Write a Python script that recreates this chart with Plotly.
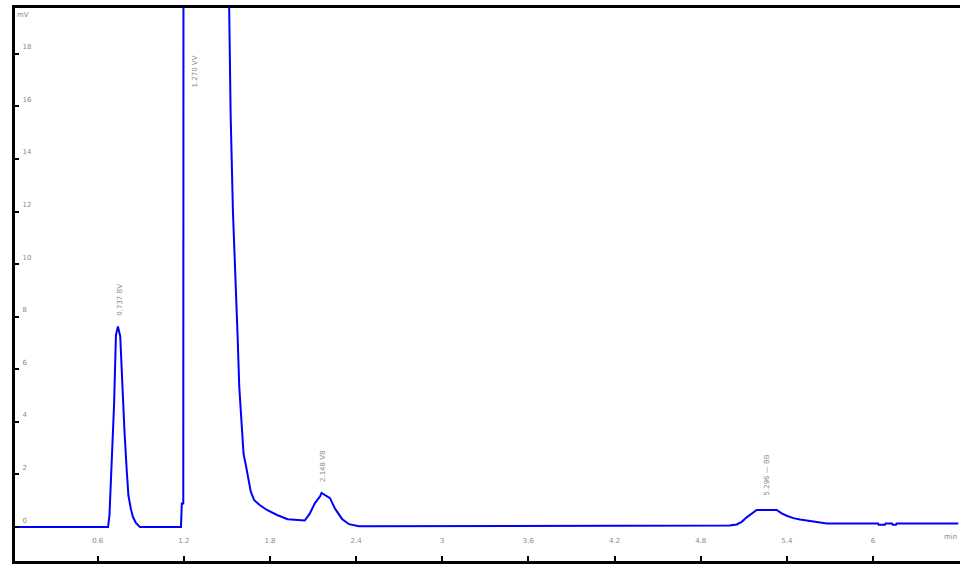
import plotly.graph_objects as go

# Chromatogram trace (time in min, signal in mV)
time_min = [0.00, 0.672, 0.682, 0.698, 0.714, 0.727, 0.741, 0.757, 0.772, 0.786,
            0.802, 0.814, 0.830, 0.845, 0.866, 0.895, 1.180, 1.186, 1.196, 1.198,
            1.505, 1.526, 1.542, 1.559, 1.574, 1.586, 1.600, 1.616, 1.633, 1.650,
            1.666, 1.689, 1.728, 1.779, 1.849, 1.923, 2.042, 2.077, 2.113, 2.148,
            2.159, 2.218, 2.253, 2.302, 2.350, 2.420, 5.000, 5.051, 5.086, 5.120,
            5.155, 5.190, 5.329, 5.364, 5.399, 5.445, 5.492, 5.596, 5.678, 6.035,
            6.040, 6.083, 6.088, 6.132, 6.137, 6.160, 6.165, 6.594]
signal_mv = [0.00, 0.00, 0.45, 2.30, 4.65, 7.30, 7.63, 7.25, 5.20, 3.70,
             2.17, 1.20, 0.72, 0.39, 0.16, 0.00, 0.00, 0.90, 0.90, 30.0,
             24.0, 15.66, 12.0, 9.03, 7.33, 5.33, 3.89, 2.78, 2.32, 1.75,
             1.35, 1.03, 0.84, 0.65, 0.46, 0.30, 0.25, 0.51, 0.91, 1.16,
             1.30, 1.10, 0.70, 0.31, 0.11, 0.03, 0.06, 0.10, 0.20, 0.37,
             0.52, 0.65, 0.65, 0.52, 0.43, 0.34, 0.29, 0.20, 0.14, 0.14,
             0.09, 0.09, 0.14, 0.14, 0.09, 0.09, 0.14, 0.14]

x_tick_vals = [0.6, 1.2, 1.8, 2.4, 3.0, 3.6, 4.2, 4.8, 5.4, 6.0]
x_tick_text = ["0.6", "1.2", "1.8", "2.4", "3", "3.6", "4.2", "4.8", "5.4", "6"]
y_tick_vals = [0, 2, 4, 6, 8, 10, 12, 14, 16, 18]
y_tick_text = ["0", "2", "4", "6", "8", "10", "12", "14", "16", "18"]

peak_labels = ["0.737 BV", "1.270 VV", "2.148 VB", "5.296 — BB"]
peak_label_x = [0.756, 1.278, 2.169, 5.265]
peak_label_y = [8.65, 17.33, 2.32, 1.98]

fig = go.Figure()
fig.add_trace(go.Scatter(x=time_min, y=signal_mv, mode="lines",
                         line=dict(color="#0000ff", width=2),
                         hoverinfo="skip", showlegend=False))

for txt, px, py in zip(peak_labels, peak_label_x, peak_label_y):
    fig.add_annotation(x=px, y=py, text=txt, textangle=-90, showarrow=False,
                       xanchor="center", yanchor="middle",
                       font=dict(size=7, color="#8a8a8a", family="DejaVu Sans"))

fig.add_annotation(xref="paper", yref="paper", x=0.0, y=0.987, text="mV",
                   showarrow=False, xanchor="left", yanchor="middle",
                   font=dict(size=7, color="#8a8a8a", family="DejaVu Sans"))
fig.add_annotation(xref="paper", yref="paper", x=0.990, y=0.043, text="min",
                   showarrow=False, xanchor="center", yanchor="middle",
                   font=dict(size=7, color="#8a8a8a", family="DejaVu Sans"))

fig.update_layout(
    width=970, height=571,
    margin=dict(l=15, r=10, t=5, b=10),
    paper_bgcolor="white", plot_bgcolor="white",
    xaxis=dict(range=[0.024, 6.606], tickvals=x_tick_vals, ticktext=x_tick_text,
               ticks="inside", ticklen=5, tickwidth=1.5, tickcolor="black",
               ticklabelposition="inside", ticklabelstandoff=10,
               tickfont=dict(size=7, color="#8a8a8a", family="DejaVu Sans"),
               showline=True, linecolor="black", linewidth=3, mirror=True,
               showgrid=False, zeroline=False),
    yaxis=dict(range=[-1.29, 19.74], tickvals=y_tick_vals, ticktext=y_tick_text,
               ticks="inside", ticklen=4, tickwidth=1.5, tickcolor="black",
               ticklabelposition="inside", ticklabelstandoff=2, ticklabelshift=-7,
               tickfont=dict(size=7, color="#8a8a8a", family="DejaVu Sans"),
               showline=True, linecolor="black", linewidth=3,
               showgrid=False, zeroline=False),
)

fig.write_html("out.html", config={"displayModeBar": False},
               post_script="document.body.style.margin='0';")
